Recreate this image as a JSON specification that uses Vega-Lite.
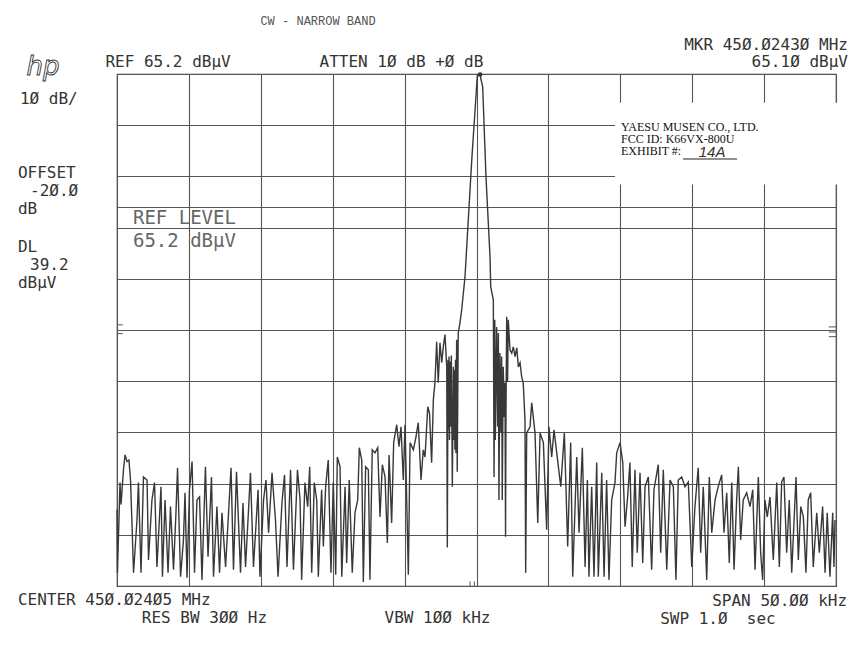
{
  "$schema": "https://vega.github.io/schema/vega-lite/v6.json",
  "width": 719,
  "height": 512,
  "autosize": {"type": "none"},
  "padding": {"left": 117, "top": 74, "right": 29, "bottom": 64},
  "background": "white",
  "config": {
    "view": {"stroke": "#444", "strokeWidth": 1.2},
    "axis": {"grid": true, "gridColor": "#555", "gridWidth": 1.1, "gridOpacity": 1, "ticks": false, "labels": false, "domain": false},
    "text": {"font": "DejaVu Sans Mono", "fontSize": 16, "fill": "#333", "baseline": "middle"}
  },
  "layer": [
    {
      "data": {"values": [
        {"f": -25.00, "a": -19.9}, {"f": -24.97, "a": -32.2}, {"f": -24.79, "a": -14.6}, {"f": -24.72, "a": -18.9},
        {"f": -24.55, "a": -12.1}, {"f": -24.44, "a": -9.2}, {"f": -24.30, "a": -10.5}, {"f": -24.17, "a": -10.2},
        {"f": -24.06, "a": -14.1}, {"f": -23.96, "a": -22.5}, {"f": -23.85, "a": -32.2}, {"f": -23.61, "a": -21.9},
        {"f": -23.51, "a": -14.6}, {"f": -23.33, "a": -32.2}, {"f": -23.16, "a": -13.5}, {"f": -22.91, "a": -14.1},
        {"f": -22.81, "a": -29.7}, {"f": -22.57, "a": -18.0}, {"f": -22.39, "a": -14.6}, {"f": -22.22, "a": -31.1},
        {"f": -21.94, "a": -15.4}, {"f": -21.84, "a": -33.0}, {"f": -21.66, "a": -18.0}, {"f": -21.45, "a": -32.2},
        {"f": -21.28, "a": -19.3}, {"f": -21.07, "a": -31.6}, {"f": -20.90, "a": -20.5}, {"f": -20.79, "a": -11.7},
        {"f": -20.58, "a": -33.0}, {"f": -20.38, "a": -25.8}, {"f": -20.27, "a": -16.6}, {"f": -20.13, "a": -33.2},
        {"f": -19.96, "a": -16.0}, {"f": -19.78, "a": -10.5}, {"f": -19.61, "a": -32.2}, {"f": -19.44, "a": -18.0},
        {"f": -19.26, "a": -17.4}, {"f": -19.09, "a": -33.6}, {"f": -18.85, "a": -11.5}, {"f": -18.67, "a": -29.1},
        {"f": -18.43, "a": -13.5}, {"f": -18.29, "a": -33.0}, {"f": -18.05, "a": -19.3}, {"f": -17.87, "a": -32.2},
        {"f": -17.70, "a": -20.5}, {"f": -17.45, "a": -31.1}, {"f": -17.07, "a": -11.7}, {"f": -16.90, "a": -31.6},
        {"f": -16.69, "a": -12.5}, {"f": -16.41, "a": -32.2}, {"f": -16.24, "a": -18.6}, {"f": -16.06, "a": -31.1},
        {"f": -15.72, "a": -12.7}, {"f": -15.51, "a": -31.1}, {"f": -15.19, "a": -16.0}, {"f": -15.06, "a": -33.0},
        {"f": -14.81, "a": -18.0}, {"f": -14.64, "a": -14.1}, {"f": -14.46, "a": -24.4}, {"f": -14.22, "a": -12.7},
        {"f": -13.98, "a": -21.9}, {"f": -13.80, "a": -33.0}, {"f": -13.53, "a": -18.6}, {"f": -13.35, "a": -13.1},
        {"f": -13.18, "a": -31.1}, {"f": -12.93, "a": -12.1}, {"f": -12.73, "a": -31.6}, {"f": -12.45, "a": -12.1},
        {"f": -12.27, "a": -18.0}, {"f": -12.16, "a": -33.6}, {"f": -11.93, "a": -14.6}, {"f": -11.74, "a": -19.3},
        {"f": -11.60, "a": -11.5}, {"f": -11.46, "a": -32.2}, {"f": -11.28, "a": -14.6}, {"f": -11.11, "a": -18.0},
        {"f": -11.00, "a": -33.0}, {"f": -10.77, "a": -16.0}, {"f": -10.65, "a": -27.1}, {"f": -10.49, "a": -15.4},
        {"f": -10.31, "a": -10.2}, {"f": -10.12, "a": -32.2}, {"f": -9.96, "a": -14.6}, {"f": -9.79, "a": -32.6},
        {"f": -9.68, "a": -9.6}, {"f": -9.49, "a": -11.5}, {"f": -9.37, "a": -33.0}, {"f": -9.14, "a": -15.4},
        {"f": -9.03, "a": -30.3}, {"f": -8.85, "a": -14.1}, {"f": -8.64, "a": -32.2}, {"f": -8.45, "a": -20.5},
        {"f": -8.26, "a": -18.0}, {"f": -8.15, "a": -7.8}, {"f": -7.98, "a": -10.2}, {"f": -7.87, "a": -34.0},
        {"f": -7.71, "a": -11.5}, {"f": -7.52, "a": -12.1}, {"f": -7.41, "a": -33.6}, {"f": -7.25, "a": -8.2},
        {"f": -7.06, "a": -8.8}, {"f": -6.87, "a": -7.8}, {"f": -6.71, "a": -21.3}, {"f": -6.55, "a": -11.1},
        {"f": -6.36, "a": -13.5}, {"f": -6.20, "a": -26.4}, {"f": -6.08, "a": -9.2}, {"f": -5.90, "a": -22.5},
        {"f": -5.76, "a": -6.8}, {"f": -5.55, "a": -3.3}, {"f": -5.39, "a": -7.6}, {"f": -5.25, "a": -3.7},
        {"f": -5.09, "a": -14.1}, {"f": -4.97, "a": -3.3}, {"f": -4.74, "a": -32.6}, {"f": -4.62, "a": -6.8},
        {"f": -4.39, "a": -8.2}, {"f": -4.21, "a": -5.7}, {"f": -4.05, "a": -2.9}, {"f": -3.86, "a": -14.1},
        {"f": -3.70, "a": -8.2}, {"f": -3.58, "a": -9.6}, {"f": -3.39, "a": 0.2}, {"f": -3.27, "a": -1.0},
        {"f": -3.12, "a": -10.7}, {"f": -3.00, "a": 1.6}, {"f": -2.89, "a": 4.9}, {"f": -2.77, "a": 12.9},
        {"f": -2.66, "a": 4.9}, {"f": -2.54, "a": 12.7}, {"f": -2.42, "a": 8.8}, {"f": -2.31, "a": 11.9},
        {"f": -2.19, "a": 14.3}, {"f": -2.07, "a": 8.0}, {"f": -2.03, "a": -27.3}, {"f": -1.98, "a": 9.4},
        {"f": -1.95, "a": -4.3}, {"f": -1.91, "a": 10.0}, {"f": -1.88, "a": -6.3}, {"f": -1.84, "a": 9.0},
        {"f": -1.79, "a": -3.7}, {"f": -1.75, "a": 10.2}, {"f": -1.68, "a": -15.4}, {"f": -1.61, "a": 8.0},
        {"f": -1.58, "a": -6.3}, {"f": -1.54, "a": 7.4}, {"f": -1.50, "a": -8.2}, {"f": -1.46, "a": 9.4},
        {"f": -1.43, "a": -8.8}, {"f": -1.38, "a": 13.3}, {"f": -1.34, "a": -12.5}, {"f": -1.27, "a": 14.6},
        {"f": -1.15, "a": 16.6}, {"f": -1.03, "a": 19.1}, {"f": -0.80, "a": 25.6}, {"f": -0.33, "a": 48.4},
        {"f": 0.06, "a": 65.0}, {"f": 0.24, "a": 65.1}, {"f": 0.43, "a": 62.7}, {"f": 0.66, "a": 45.1},
        {"f": 0.94, "a": 29.5}, {"f": 0.99, "a": 23.6}, {"f": 1.17, "a": 21.1}, {"f": 1.22, "a": -13.5},
        {"f": 1.27, "a": 17.2}, {"f": 1.31, "a": -6.3}, {"f": 1.40, "a": 15.8}, {"f": 1.47, "a": -3.7},
        {"f": 1.52, "a": 14.6}, {"f": 1.56, "a": -18.0}, {"f": 1.63, "a": 10.7}, {"f": 1.70, "a": -4.9},
        {"f": 1.75, "a": 10.0}, {"f": 1.79, "a": -18.0}, {"f": 1.86, "a": 8.0}, {"f": 1.93, "a": -1.8},
        {"f": 1.98, "a": 4.9}, {"f": 2.02, "a": -25.2}, {"f": 2.05, "a": -1.0}, {"f": 2.10, "a": 17.8},
        {"f": 2.16, "a": 5.1}, {"f": 2.21, "a": 17.2}, {"f": 2.33, "a": 11.3}, {"f": 2.45, "a": 10.7},
        {"f": 2.56, "a": 11.9}, {"f": 2.68, "a": 10.0}, {"f": 2.80, "a": 11.7}, {"f": 2.91, "a": 8.0},
        {"f": 3.03, "a": 8.8}, {"f": 3.14, "a": 6.1}, {"f": 3.25, "a": 4.9}, {"f": 3.37, "a": -2.3},
        {"f": 3.42, "a": -32.2}, {"f": 3.49, "a": -4.9}, {"f": 3.72, "a": -3.7}, {"f": 3.84, "a": 1.0},
        {"f": 4.07, "a": -4.9}, {"f": 4.26, "a": -22.5}, {"f": 4.42, "a": -4.9}, {"f": 4.65, "a": -6.8},
        {"f": 4.88, "a": -23.8}, {"f": 5.04, "a": -3.7}, {"f": 5.23, "a": -9.6}, {"f": 5.39, "a": -4.3},
        {"f": 5.58, "a": -8.8}, {"f": 5.86, "a": -15.4}, {"f": 6.11, "a": -4.9}, {"f": 6.34, "a": -27.1},
        {"f": 6.55, "a": -6.8}, {"f": 6.69, "a": -33.0}, {"f": 6.97, "a": -9.6}, {"f": 7.13, "a": -24.4},
        {"f": 7.36, "a": -7.8}, {"f": 7.55, "a": -31.1}, {"f": 7.71, "a": -14.1}, {"f": 7.82, "a": -33.0},
        {"f": 8.01, "a": -15.4}, {"f": 8.17, "a": -33.0}, {"f": 8.36, "a": -10.7}, {"f": 8.47, "a": -33.0},
        {"f": 8.71, "a": -12.7}, {"f": 8.87, "a": -33.0}, {"f": 9.05, "a": -14.1}, {"f": 9.21, "a": -33.6},
        {"f": 9.40, "a": -18.0}, {"f": 9.63, "a": -14.6}, {"f": 9.75, "a": -8.8}, {"f": 9.98, "a": -6.8},
        {"f": 10.17, "a": -10.7}, {"f": 10.33, "a": -23.2}, {"f": 10.51, "a": -17.4}, {"f": 10.67, "a": -10.7},
        {"f": 10.83, "a": -31.1}, {"f": 11.02, "a": -12.1}, {"f": 11.18, "a": -28.3}, {"f": 11.37, "a": -12.7},
        {"f": 11.56, "a": -30.3}, {"f": 11.72, "a": -15.4}, {"f": 11.95, "a": -13.5}, {"f": 12.18, "a": -31.6},
        {"f": 12.34, "a": -16.0}, {"f": 12.64, "a": -11.1}, {"f": 12.81, "a": -28.3}, {"f": 12.99, "a": -12.1},
        {"f": 13.23, "a": -31.6}, {"f": 13.46, "a": -14.1}, {"f": 13.69, "a": -15.4}, {"f": 13.87, "a": -33.6},
        {"f": 14.03, "a": -14.1}, {"f": 14.27, "a": -13.5}, {"f": 14.50, "a": -15.4}, {"f": 14.73, "a": -14.5},
        {"f": 14.97, "a": -31.1}, {"f": 15.19, "a": -19.3}, {"f": 15.42, "a": -11.7}, {"f": 15.59, "a": -28.3},
        {"f": 15.77, "a": -15.4}, {"f": 16.01, "a": -33.6}, {"f": 16.19, "a": -13.5}, {"f": 16.36, "a": -24.4},
        {"f": 16.59, "a": -18.0}, {"f": 16.81, "a": -15.4}, {"f": 17.05, "a": -13.1}, {"f": 17.21, "a": -24.4},
        {"f": 17.40, "a": -16.6}, {"f": 17.58, "a": -30.3}, {"f": 17.75, "a": -14.6}, {"f": 17.91, "a": -31.6},
        {"f": 18.09, "a": -18.0}, {"f": 18.21, "a": -11.5}, {"f": 18.37, "a": -25.8}, {"f": 18.55, "a": -18.0},
        {"f": 18.79, "a": -16.6}, {"f": 19.02, "a": -19.3}, {"f": 19.21, "a": -16.0}, {"f": 19.37, "a": -31.6},
        {"f": 19.60, "a": -13.5}, {"f": 19.76, "a": -28.3}, {"f": 19.90, "a": -33.6}, {"f": 20.06, "a": -18.0},
        {"f": 20.22, "a": -21.3}, {"f": 20.41, "a": -17.4}, {"f": 20.64, "a": -29.7}, {"f": 20.88, "a": -14.6},
        {"f": 21.06, "a": -31.1}, {"f": 21.22, "a": -14.5}, {"f": 21.38, "a": -13.5}, {"f": 21.57, "a": -28.3},
        {"f": 21.75, "a": -18.0}, {"f": 21.92, "a": -32.2}, {"f": 22.22, "a": -13.5}, {"f": 22.38, "a": -29.7},
        {"f": 22.55, "a": -19.3}, {"f": 22.73, "a": -21.3}, {"f": 22.91, "a": -32.2}, {"f": 23.07, "a": -18.0},
        {"f": 23.24, "a": -16.6}, {"f": 23.42, "a": -31.1}, {"f": 23.66, "a": -20.5}, {"f": 23.84, "a": -28.3},
        {"f": 24.07, "a": -19.3}, {"f": 24.24, "a": -32.2}, {"f": 24.39, "a": -20.5}, {"f": 24.58, "a": -33.0},
        {"f": 24.77, "a": -20.5}, {"f": 24.86, "a": -31.1}, {"f": 24.93, "a": -21.9}
      ]},
      "mark": {"type": "line", "color": "#383838", "strokeWidth": 1.4},
      "encoding": {
        "x": {
          "field": "f", "type": "quantitative", "title": null,
          "scale": {"domain": [-25, 25], "nice": false, "zero": false},
          "axis": {"values": [-25, -20, -15, -10, -5, 0, 5, 10, 15, 20, 25], "title": null}
        },
        "y": {
          "field": "a", "type": "quantitative", "title": null,
          "scale": {"domain": [-34.8, 65.2], "nice": false, "zero": false},
          "axis": {"values": [65.2, 55.2, 45.2, 39.2, 35.2, 25.2, 15.2, 5.2, -4.8, -14.8, -24.8, -34.8], "title": null}
        }
      }
    },
    {
      "data": {"values": [{}]},
      "mark": {"type": "point", "filled": true, "color": "#333", "size": 22, "opacity": 1},
      "encoding": {"x": {"datum": 0.25, "type": "quantitative", "title": null}, "y": {"datum": 65.1, "type": "quantitative", "title": null}}
    },
    {
      "data": {"values": [{}]},
      "mark": {"type": "rect", "color": "white"},
      "encoding": {"x": {"datum": 9.63, "type": "quantitative", "title": null}, "x2": {"datum": 25.3}, "y": {"datum": 59.6, "type": "quantitative", "title": null}, "y2": {"datum": 43.6}}
    },
    {
      "data": {"values": [{}]},
      "mark": {"type": "rule", "color": "#555", "strokeWidth": 1},
      "encoding": {"x": {"datum": -25, "type": "quantitative", "title": null}, "x2": {"datum": -24.6}, "y": {"datum": 16.2, "type": "quantitative", "title": null}}
    },
    {
      "data": {"values": [{}]},
      "mark": {"type": "rule", "color": "#555", "strokeWidth": 1},
      "encoding": {"x": {"datum": -25, "type": "quantitative", "title": null}, "x2": {"datum": -24.6}, "y": {"datum": 14.5, "type": "quantitative", "title": null}}
    },
    {
      "data": {"values": [{}]},
      "mark": {"type": "rule", "color": "#555", "strokeWidth": 1},
      "encoding": {"x": {"datum": 24.5, "type": "quantitative", "title": null}, "x2": {"datum": 25}, "y": {"datum": 15.8, "type": "quantitative", "title": null}}
    },
    {
      "data": {"values": [{}]},
      "mark": {"type": "rule", "color": "#555", "strokeWidth": 1},
      "encoding": {"x": {"datum": 24.5, "type": "quantitative", "title": null}, "x2": {"datum": 25}, "y": {"datum": 14.8, "type": "quantitative", "title": null}}
    },
    {
      "data": {"values": [{}]},
      "mark": {"type": "rule", "color": "#555", "strokeWidth": 1},
      "encoding": {"x": {"datum": 24.5, "type": "quantitative", "title": null}, "x2": {"datum": 25}, "y": {"datum": 13.9, "type": "quantitative", "title": null}}
    },
    {
      "data": {"values": [{}]},
      "mark": {"type": "rule", "color": "#555", "strokeWidth": 1},
      "encoding": {"x": {"datum": -0.45, "type": "quantitative", "title": null}, "y": {"datum": -34.8, "type": "quantitative", "title": null}, "y2": {"datum": -33.9}}
    },
    {
      "data": {"values": [{}]},
      "mark": {"type": "rule", "color": "#555", "strokeWidth": 1},
      "encoding": {"x": {"datum": -0.15, "type": "quantitative", "title": null}, "y": {"datum": -34.8, "type": "quantitative", "title": null}, "y2": {"datum": -33.9}}
    },
    {
      "data": {"values": [{}]},
      "mark": {"type": "rule", "color": "#222", "strokeWidth": 1},
      "encoding": {"x": {"datum": 14.36, "type": "quantitative", "title": null}, "x2": {"datum": 18.12}, "y": {"datum": 48.6, "type": "quantitative", "title": null}}
    },
    {
      "data": {"values": [{}]},
      "mark": {"type": "text", "text": "YAESU MUSEN CO., LTD.\nFCC ID: K66VX-800U\nEXHIBIT #:", "lineBreak": "\n", "lineHeight": 12, "font": "Liberation Serif", "fontSize": 12, "fill": "#111", "align": "left"},
      "encoding": {"x": {"datum": 10.05, "type": "quantitative", "title": null}, "y": {"datum": 54.9, "type": "quantitative", "title": null}}
    },
    {
      "data": {"values": [{}]},
      "mark": {"type": "text", "text": "14A", "font": "Liberation Sans", "fontStyle": "italic", "fontSize": 15, "fill": "#333", "align": "center"},
      "encoding": {"x": {"datum": 16.38, "type": "quantitative", "title": null}, "y": {"datum": 49.9, "type": "quantitative", "title": null}}
    },
    {
      "data": {"values": [{}]},
      "mark": {"type": "text", "text": "CW - NARROW BAND", "font": "Liberation Mono", "fontSize": 12, "fill": "#555", "align": "center"},
      "encoding": {"x": {"datum": -11.02, "type": "quantitative", "title": null}, "y": {"datum": 75.6, "type": "quantitative", "title": null}}
    },
    {
      "data": {"values": [{}]},
      "mark": {"type": "text", "text": "hp", "font": "DejaVu Sans", "fontStyle": "italic", "fontSize": 26, "fill": "white", "stroke": "#333", "strokeWidth": 0.9, "align": "center"},
      "encoding": {"x": {"datum": -30.15, "type": "quantitative", "title": null}, "y": {"datum": 66.6, "type": "quantitative", "title": null}}
    },
    {
      "data": {"values": [{}]},
      "mark": {"type": "text", "text": "REF 65.2 dBμV", "align": "center"},
      "encoding": {"x": {"datum": -21.45, "type": "quantitative", "title": null}, "y": {"datum": 67.6, "type": "quantitative", "title": null}}
    },
    {
      "data": {"values": [{}]},
      "mark": {"type": "text", "text": "ATTEN 1Ø dB +Ø dB", "align": "center"},
      "encoding": {"x": {"datum": -5.22, "type": "quantitative", "title": null}, "y": {"datum": 67.6, "type": "quantitative", "title": null}}
    },
    {
      "data": {"values": [{}]},
      "mark": {"type": "text", "text": "MKR 45Ø.Ø243Ø MHz", "align": "right"},
      "encoding": {"x": {"datum": 25.83, "type": "quantitative", "title": null}, "y": {"datum": 70.9, "type": "quantitative", "title": null}}
    },
    {
      "data": {"values": [{}]},
      "mark": {"type": "text", "text": "65.1Ø dBμV", "align": "right"},
      "encoding": {"x": {"datum": 25.83, "type": "quantitative", "title": null}, "y": {"datum": 67.5, "type": "quantitative", "title": null}}
    },
    {
      "data": {"values": [{}]},
      "mark": {"type": "text", "text": "1Ø dB/", "align": "left"},
      "encoding": {"x": {"datum": -31.75, "type": "quantitative", "title": null}, "y": {"datum": 60.4, "type": "quantitative", "title": null}}
    },
    {
      "data": {"values": [{}]},
      "mark": {"type": "text", "text": "OFFSET", "align": "left"},
      "encoding": {"x": {"datum": -31.89, "type": "quantitative", "title": null}, "y": {"datum": 45.9, "type": "quantitative", "title": null}}
    },
    {
      "data": {"values": [{}]},
      "mark": {"type": "text", "text": "-2Ø.Ø", "align": "left"},
      "encoding": {"x": {"datum": -31.05, "type": "quantitative", "title": null}, "y": {"datum": 42.3, "type": "quantitative", "title": null}}
    },
    {
      "data": {"values": [{}]},
      "mark": {"type": "text", "text": "dB", "align": "left"},
      "encoding": {"x": {"datum": -31.89, "type": "quantitative", "title": null}, "y": {"datum": 38.9, "type": "quantitative", "title": null}}
    },
    {
      "data": {"values": [{}]},
      "mark": {"type": "text", "text": "DL", "align": "left"},
      "encoding": {"x": {"datum": -31.89, "type": "quantitative", "title": null}, "y": {"datum": 31.4, "type": "quantitative", "title": null}}
    },
    {
      "data": {"values": [{}]},
      "mark": {"type": "text", "text": "39.2", "align": "left"},
      "encoding": {"x": {"datum": -31.05, "type": "quantitative", "title": null}, "y": {"datum": 27.8, "type": "quantitative", "title": null}}
    },
    {
      "data": {"values": [{}]},
      "mark": {"type": "text", "text": "dBμV", "align": "left"},
      "encoding": {"x": {"datum": -31.89, "type": "quantitative", "title": null}, "y": {"datum": 24.3, "type": "quantitative", "title": null}}
    },
    {
      "data": {"values": [{}]},
      "mark": {"type": "text", "text": "REF LEVEL", "fontSize": 19, "fill": "#666", "align": "left"},
      "encoding": {"x": {"datum": -23.89, "type": "quantitative", "title": null}, "y": {"datum": 37.0, "type": "quantitative", "title": null}}
    },
    {
      "data": {"values": [{}]},
      "mark": {"type": "text", "text": "65.2 dBμV", "fontSize": 19, "fill": "#666", "align": "left"},
      "encoding": {"x": {"datum": -23.89, "type": "quantitative", "title": null}, "y": {"datum": 32.6, "type": "quantitative", "title": null}}
    },
    {
      "data": {"values": [{}]},
      "mark": {"type": "text", "text": "CENTER 45Ø.Ø24Ø5 MHz", "align": "left"},
      "encoding": {"x": {"datum": -31.89, "type": "quantitative", "title": null}, "y": {"datum": -37.5, "type": "quantitative", "title": null}}
    },
    {
      "data": {"values": [{}]},
      "mark": {"type": "text", "text": "RES BW 3ØØ Hz", "align": "center"},
      "encoding": {"x": {"datum": -18.92, "type": "quantitative", "title": null}, "y": {"datum": -41.1, "type": "quantitative", "title": null}}
    },
    {
      "data": {"values": [{}]},
      "mark": {"type": "text", "text": "VBW 1ØØ kHz", "align": "center"},
      "encoding": {"x": {"datum": -2.71, "type": "quantitative", "title": null}, "y": {"datum": -41.1, "type": "quantitative", "title": null}}
    },
    {
      "data": {"values": [{}]},
      "mark": {"type": "text", "text": "SPAN 5Ø.ØØ kHz", "align": "right"},
      "encoding": {"x": {"datum": 25.77, "type": "quantitative", "title": null}, "y": {"datum": -37.7, "type": "quantitative", "title": null}}
    },
    {
      "data": {"values": [{}]},
      "mark": {"type": "text", "text": "SWP 1.Ø\u00a0 sec", "align": "center"},
      "encoding": {"x": {"datum": 16.79, "type": "quantitative", "title": null}, "y": {"datum": -41.2, "type": "quantitative", "title": null}}
    }
  ]
}
